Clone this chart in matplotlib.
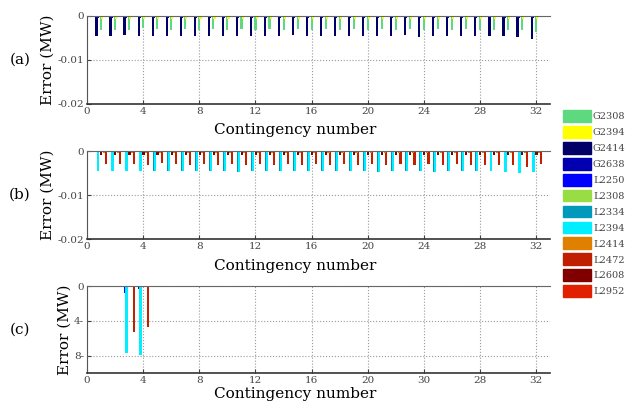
import numpy as np
import matplotlib
matplotlib.use("Agg")
import matplotlib.pyplot as plt

# contingencies and series
cont=np.arange(1,33)
names=["G2308","G2394","G2414","G2638","L2250","L2308","L2334","L2394","L2414","L2472","L2608","L2952"]
colors=["#5fd97f","#ffff00","#000066","#0000b0","#0000ff","#99dd44","#0099bb","#00eeff","#e08000","#c02000","#800000","#e02000"]

# (a) generator outage errors (MW)
a_g2414=[-0.0047,-0.0047,-0.0043,-0.0045,-0.0047,-0.0046,-0.0046,-0.0045,-0.0046,-0.0045,-0.0046,-0.0045,
		-0.0046,-0.0045,-0.0044,-0.0046,-0.0045,-0.0046,-0.0045,-0.0046,-0.0046,-0.0045,-0.0044,-0.0048,
		-0.0046,-0.0045,-0.0046,-0.0047,-0.0047,-0.0047,-0.0048,-0.0053]
a_g2308=[-0.0032,-0.0032,-0.0032,-0.0028,-0.0030,-0.0032,-0.0031,-0.0032,-0.0031,-0.0032,-0.0031,-0.0032,
		-0.0031,-0.0032,-0.0031,-0.0032,-0.0031,-0.0032,-0.0031,-0.0032,-0.0031,-0.0032,-0.0031,-0.0032,
		-0.0031,-0.0032,-0.0031,-0.0032,-0.0032,-0.0032,-0.0032,-0.0036]
a_g2394=[-0.0008]*32
a_g2638=[-0.0006]*32
a_l2414=[-0.0003]*32

# (b) line outage errors (MW)
b_l2394=[-0.0045,-0.0046,-0.0046,-0.0045,-0.0045,-0.0046,-0.0045,-0.0045,-0.0046,-0.0045,-0.0047,-0.0045,
		-0.0046,-0.0045,-0.0046,-0.0045,-0.0046,-0.0046,-0.0046,-0.0046,-0.0047,-0.0046,-0.0046,-0.0046,
		-0.0048,-0.0046,-0.0046,-0.0046,-0.0046,-0.0048,-0.0050,-0.0047]
b_l2472=[-0.0030,-0.0030,-0.0030,-0.0032,-0.0028,-0.0030,-0.0031,-0.0030,-0.0031,-0.0030,-0.0031,-0.0030,
		-0.0031,-0.0030,-0.0031,-0.0030,-0.0031,-0.0030,-0.0031,-0.0030,-0.0031,-0.0030,-0.0031,-0.0030,
		-0.0031,-0.0030,-0.0031,-0.0031,-0.0031,-0.0031,-0.0035,-0.0029]
b_l2608=[-0.0009]*32
b_l2414=[-0.0004]*32
b_g2394=[-0.0003]*32

# (c) errors (MW), only contingencies 3 and 4
c_l2250=[0]*32
c_l2250[2]=0.8
c_l2250[3]=0.3
c_l2394=[0]*32
c_l2394[2]=7.7
c_l2394[3]=7.9
c_l2472=[0]*32
c_l2472[2]=5.3
c_l2472[3]=4.7

xticks=[0,4,8,12,16,20,24,28,32]
c_xticklabels=["0","4","8","12","16","20","30","28","32"]

# horizontal place of each series within a group
offs={"G2414":-0.33,"G2638":-0.26,"L2250":-0.3,"L2334":-0.25,"L2394":-0.19,"G2308":0.0,
	  "G2394":0.08,"L2308":0.12,"L2608":0.02,"L2414":0.2,"L2472":0.33,"L2952":0.42}
col=dict(zip(names,colors))
W=0.15

plt.rcParams["font.family"]="DejaVu Serif"
fig=plt.figure(figsize=(6.31,4.04),dpi=100)

def style(ax,labels=None,lab_y=-0.22):
	ax.set_xlim(0,33)
	ax.set_xticks(xticks)
	if labels is not None:
		ax.set_xticklabels(labels)
	ax.grid(True,color="#999999",linestyle=":",linewidth=0.8)
	ax.set_axisbelow(True)
	ax.spines["right"].set_visible(False)
	ax.spines["top"].set_color("#666666")
	ax.spines["left"].set_color("#555555")
	ax.spines["bottom"].set_color("#333333")
	ax.spines["bottom"].set_linewidth(1.2)
	ax.tick_params(direction="in",length=3,labelsize=7.5,colors="#444444",pad=2)
	ax.set_xlabel("Contingency number",fontsize=11)
	ax.xaxis.set_label_coords((295-87)/463,lab_y)
	ax.set_ylabel("Error (MW)",fontsize=11,labelpad=2)

def bars(ax,series):
	for name,vals in series:
		ax.bar(cont+offs[name],vals,width=W,color=col[name],linewidth=0)

axa=fig.add_axes([0.138,0.743,0.734,0.218])
bars(axa,[("G2414",a_g2414),("G2638",a_g2638),("G2308",a_g2308),("G2394",a_g2394),("L2414",a_l2414)])
axa.set_ylim(-0.02,0)
axa.set_yticks([-0.02,-0.01,0])
axa.set_yticklabels(["-0.02","-0.01","0"])
style(axa)

axb=fig.add_axes([0.138,0.408,0.734,0.218])
bars(axb,[("L2334",b_l2394),("L2394",b_l2394),("L2608",b_l2608),("L2472",b_l2472),("L2414",b_l2414),("G2394",b_g2394)])
axb.set_ylim(-0.02,0)
axb.set_yticks([-0.02,-0.01,0])
axb.set_yticklabels(["-0.02","-0.01","0"])
style(axb)

axc=fig.add_axes([0.138,0.077,0.734,0.215])
bars(axc,[("L2250",c_l2250),("L2334",c_l2394),("L2394",c_l2394),("L2472",c_l2472)])
axc.set_ylim(10,0)
axc.set_yticks([0,4,8])
axc.set_yticklabels(["0","4-","8-"])
style(axc,c_xticklabels,lab_y=-0.16)

for ax,lab in zip([axa,axb,axc],["(a)","(b)","(c)"]):
	ax.text(-0.145,0.5,lab,transform=ax.transAxes,fontsize=11,ha="center",va="center")

handles=[plt.Rectangle((0,0),1,1,color=c) for c in colors]
fig.legend(handles,names,loc="upper left",bbox_to_anchor=(0.885,0.74),frameon=False,
		   fontsize=7,handlelength=2.9,handleheight=1.5,labelspacing=0.42,handletextpad=0.15,
		   borderpad=0,labelcolor="#444444")

fig.savefig("out.png",dpi=100)
